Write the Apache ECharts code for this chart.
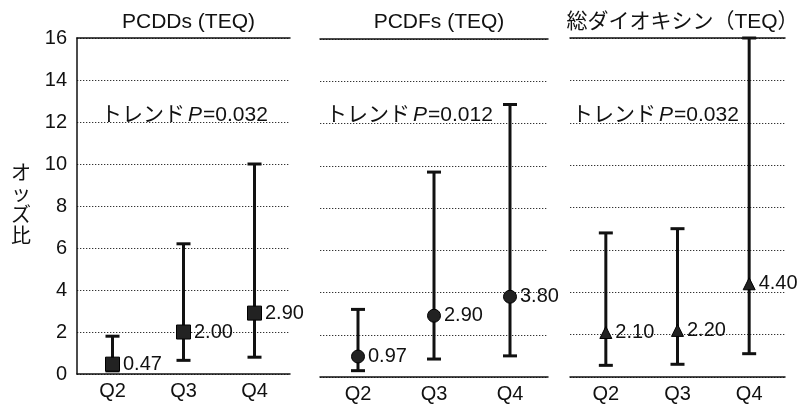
<!DOCTYPE html>
<html>
<head>
<meta charset="utf-8">
<script src="https://cdn.jsdelivr.net/npm/echarts@6/dist/echarts.min.js"></script>
<style>
  html, body { margin: 0; padding: 0; background: #fff; }
  #chart { width: 805px; height: 407px; }
</style>
</head>
<body>
<div id="chart"></div>
<script>
// Quartile categories shared by all three panels
const categories = ['Q2', 'Q3', 'Q4'];
const yTicks = [0, 2, 4, 6, 8, 10, 12, 14, 16];

// Panel titles and trend p-values
const panelTitles = ['PCDDs (TEQ)', 'PCDFs (TEQ)', '総ダイオキシン（TEQ）'];
const trendP = ['0.032', '0.012', '0.032'];

// Odds ratios (point estimates)
const pcddOR = [0.47, 2.00, 2.90];
const pcdfOR = [0.97, 2.90, 3.80];
const totalOR = [2.10, 2.20, 4.40];

// 95% confidence limits
const pcddLow = [0.15, 0.65, 0.8];
const pcddHigh = [1.8, 6.2, 10.0];
const pcdfLow = [0.3, 0.85, 1.0];
const pcdfHigh = [3.2, 9.7, 12.9];
const totalLow = [0.55, 0.6, 1.1];
const totalHigh = [6.8, 7.0, 16.0];

const FONT = '"Liberation Sans", Arial, "Noto Sans CJK JP", sans-serif';
const INK = '#111';

const panels = [
  { or: pcddOR, low: pcddLow, high: pcddHigh, symbol: 'rect', size: 14 },
  { or: pcdfOR, low: pcdfLow, high: pcdfHigh, symbol: 'circle', size: 13 },
  { or: totalOR, low: totalLow, high: totalHigh, symbol: 'triangle', size: 12 }
];

const grids = [
  { left: 77, top: 38, width: 213, height: 336 },
  { left: 320, top: 39, width: 228, height: 338 },
  { left: 570, top: 38, width: 215, height: 339 }
];

const xAxes = [];
const yAxes = [];
const series = [];
const titles = [];

grids.forEach(function (g, i) {
  // bottom category axis
  xAxes.push({
    type: 'category', gridIndex: i, data: categories, position: 'bottom',
    axisLine: { show: true, lineStyle: { color: INK, width: 1.5 } },
    axisTick: { show: false },
    axisLabel: { color: INK, fontSize: 20, fontFamily: FONT, margin: 7 }
  });
  // top frame line
  xAxes.push({
    type: 'category', gridIndex: i, data: categories, position: 'top',
    axisLine: { show: true, lineStyle: { color: INK, width: 1.5 } },
    axisTick: { show: false }, axisLabel: { show: false }
  });
  yAxes.push({
    type: 'value', gridIndex: i, min: 0, max: 16, interval: 2,
    axisLine: { show: i === 0, lineStyle: { color: INK, width: 1.5 } },
    axisTick: { show: false },
    axisLabel: {
      show: i === 0, color: INK, fontSize: 20, fontFamily: FONT, margin: 10,
      formatter: function (v) { return yTicks.indexOf(v) >= 0 ? String(v) : ''; }
    },
    splitLine: { show: true, lineStyle: { color: '#333', width: 1.2, type: [1.3, 1.7] } },
    name: i === 0 ? 'オ\nッ\nズ\n比' : '',
    nameLocation: 'middle', nameGap: 46, nameRotate: 0,
    nameTextStyle: { color: INK, fontSize: 20, fontFamily: FONT, lineHeight: 21 }
  });

  const p = panels[i];
  // confidence interval whiskers
  series.push({
    type: 'custom', xAxisIndex: i * 2, yAxisIndex: i, z: 2,
    data: categories.map(function (c, k) { return [k, p.low[k], p.high[k]]; }),
    renderItem: function (params, api) {
      const lo = api.coord([api.value(0), api.value(1)]);
      const hi = api.coord([api.value(0), api.value(2)]);
      const cap = 7;
      const st = { stroke: INK, lineWidth: 3 };
      return {
        type: 'group',
        children: [
          { type: 'line', shape: { x1: lo[0], y1: lo[1], x2: hi[0], y2: hi[1] }, style: st },
          { type: 'line', shape: { x1: lo[0] - cap, y1: lo[1], x2: lo[0] + cap, y2: lo[1] }, style: st },
          { type: 'line', shape: { x1: hi[0] - cap, y1: hi[1], x2: hi[0] + cap, y2: hi[1] }, style: st }
        ]
      };
    }
  });
  // point estimates
  series.push({
    type: 'scatter', xAxisIndex: i * 2, yAxisIndex: i, z: 3,
    symbol: p.symbol, symbolSize: p.size,
    itemStyle: { color: '#222', borderColor: '#000', borderWidth: 1, opacity: 1 },
    data: p.or,
    label: {
      show: true, position: 'right', distance: 3, opacity: 1,
      color: INK, fontSize: 20, fontFamily: FONT,
      formatter: function (d) { return d.value.toFixed(2); }
    }
  });

  titles.push({
    text: panelTitles[i],
    left: g.left + g.width / 2, top: 7, textAlign: 'center',
    textStyle: { color: INK, fontSize: 21, fontWeight: 'normal', fontFamily: FONT }
  });
  titles.push({
    text: '{n|トレンド}{p|P}{n|=' + trendP[i] + '}',
    left: [96, 321, 567][i], top: 100,
    textStyle: {
      fontWeight: 'normal',
      rich: {
        n: { color: INK, fontSize: 21, fontWeight: 'normal', fontFamily: FONT },
        p: { color: INK, fontSize: 21, fontWeight: 'normal', fontFamily: FONT, fontStyle: 'italic', padding: [0, 1, 0, 3] }
      }
    }
  });
});

const chart = echarts.init(document.getElementById('chart'), null, { renderer: 'canvas' });
chart.setOption({
  animation: false,
  backgroundColor: '#fff',
  title: titles,
  grid: grids,
  xAxis: xAxes,
  yAxis: yAxes,
  series: series
});
</script>
</body>
</html>
